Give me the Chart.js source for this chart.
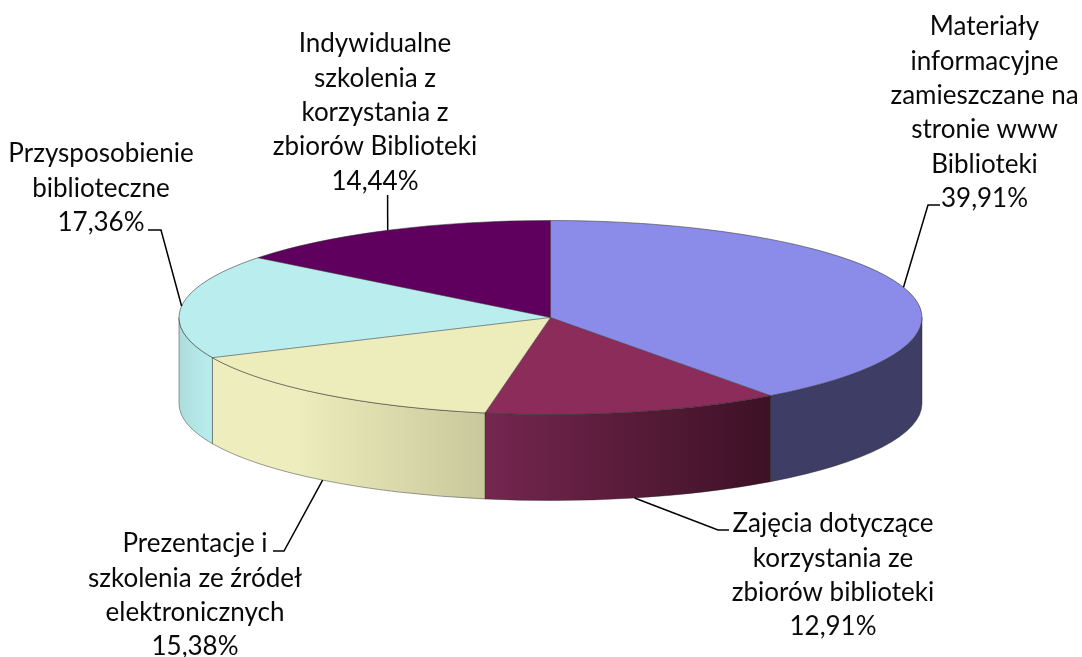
<!DOCTYPE html>
<html><head><meta charset="utf-8">
<style>html,body{margin:0;padding:0;background:#fff}#w{width:1082px;height:657px;position:relative}</style>
<script src="https://cdn.jsdelivr.net/npm/chart.js@4"></script>
</head><body><div id="w"><canvas id="c"></canvas></div>
<script>
const categories = ["Materiały informacyjne zamieszczane na stronie www Biblioteki","Zajęcia dotyczące korzystania ze zbiorów biblioteki","Prezentacje i szkolenia ze źródeł elektronicznych","Przysposobienie biblioteczne","Indywidualne szkolenia z korzystania z zbiorów Biblioteki"];
const shares = [39.91,12.91,15.38,17.36,14.44];
const labelLines = [
 ["Materiały","informacyjne","zamieszczane na","stronie www","Biblioteki"],
 ["Zajęcia dotyczące","korzystania ze","zbiorów biblioteki"],
 ["Prezentacje i","szkolenia ze źródeł","elektronicznych"],
 ["Przysposobienie","biblioteczne"],
 ["Indywidualne","szkolenia z","korzystania z","zbiorów Biblioteki"]
];
const topColors = ["#8B8BE9","#8B2C5A","#EDEDBC","#BAEDED","#5F005F"];
const sideColors = [["#3D3D66","#3D3D66"],["#75264F","#3D1125"],["#EDEDBD","#C8C89C"],["#ADDDDD","#B9EEEE"],["#5F005F","#5F005F"]];

const RX=371.5, RY=97, DEPTH=86, LINE=34.3;
const labelLayout=[
 {x:984.5,y:27,elbow:[[928,205],[940,205]]},
 {x:833,y:524,elbow:[[718,530],[729,530]]},
 {x:195,y:544,elbow:[[284,551],[273,551]]},
 {x:101,y:154,elbow:[[161,230],[148,230]]},
 {x:375,y:44,elbow:[[387.6,195]]}
];
function geom(chart){
  const a=chart.getDatasetMeta(0).data;
  const cx=a[0].x, cy=a[0].y, R=a[0].outerRadius;
  return {a,cx,cy,R,sx:RX/R,sy:RY/R};
}
const pie3d={
  id:'pie3d',
  beforeDatasetsDraw(chart){
    const {ctx}=chart, g=geom(chart);
    g.a.forEach((arc,i)=>{
      const s=Math.max(arc.startAngle,0), e=Math.min(arc.endAngle,Math.PI);
      if(e<=s) return;
      const x0=g.cx+RX*Math.cos(s), x1=g.cx+RX*Math.cos(e);
      const grad=ctx.createLinearGradient(Math.min(x0,x1),0,Math.max(x0,x1),0);
      grad.addColorStop(0,sideColors[i][0]);
      if(i==2) grad.addColorStop(0.3,sideColors[i][0]);
      grad.addColorStop(1,sideColors[i][1]);
      ctx.save();
      ctx.beginPath();
      ctx.ellipse(g.cx,g.cy,RX,RY,0,s,e,false);
      ctx.ellipse(g.cx,g.cy+DEPTH,RX,RY,0,e,s,true);
      ctx.closePath();
      ctx.fillStyle=grad;ctx.fill();
      ctx.strokeStyle='rgba(40,40,40,0.45)';ctx.lineWidth=1;ctx.stroke();
      ctx.restore();
    });
    ctx.save();
    ctx.translate(g.cx,g.cy);ctx.scale(g.sx,g.sy);ctx.translate(-g.cx,-g.cy);
  },
  afterDatasetsDraw(chart){
    const {ctx}=chart, g=geom(chart);
    ctx.restore();
    ctx.save();
    ctx.strokeStyle='rgba(50,50,50,0.55)';ctx.lineWidth=1;
    g.a.forEach(arc=>{
      ctx.beginPath();
      ctx.moveTo(g.cx,g.cy);
      ctx.lineTo(g.cx+RX*Math.cos(arc.startAngle),g.cy+RY*Math.sin(arc.startAngle));
      ctx.stroke();
    });
    ctx.beginPath();ctx.ellipse(g.cx,g.cy,RX,RY,0,0,Math.PI*2);ctx.stroke();
    ctx.restore();
  },
  afterDraw(chart){
    const {ctx}=chart, g=geom(chart);
    ctx.save();
    ctx.strokeStyle='#000';ctx.lineWidth=1.5;
    g.a.forEach((arc,i)=>{
      const m=(arc.startAngle+arc.endAngle)/2;
      const sx=g.cx+RX*Math.cos(m);
      let sy=g.cy+RY*Math.sin(m);
      if(Math.sin(m)>0) sy+=DEPTH;
      ctx.beginPath();ctx.moveTo(sx,sy);
      labelLayout[i].elbow.forEach(p=>ctx.lineTo(p[0],p[1]));
      ctx.stroke();
    });
    ctx.fillStyle='#0a0a0a';ctx.textAlign='center';ctx.textBaseline='middle';
    ctx.font='26px Lato';
    labelLines.forEach((lines,i)=>{
      const all=lines.concat([shares[i].toFixed(2).replace('.',',')+'%']);
      all.forEach((t,j)=>ctx.fillText(t,labelLayout[i].x,labelLayout[i].y+j*LINE));
    });
    ctx.restore();
  }
};
new Chart(document.getElementById('c'),{
  type:'pie',
  data:{labels:categories,datasets:[{data:shares,backgroundColor:topColors,borderWidth:0}]},
  options:{responsive:true,maintainAspectRatio:false,animation:false,
    layout:{padding:{left:19,bottom:22}},
    plugins:{legend:{display:false},tooltip:{enabled:false}}},
  plugins:[pie3d]
});
</script></body></html>
